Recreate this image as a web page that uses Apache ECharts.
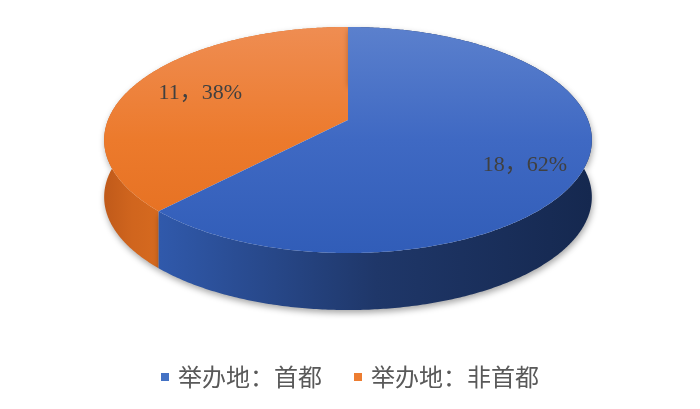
<!DOCTYPE html>
<html>
<head>
<meta charset="utf-8">
<script src="https://cdn.jsdelivr.net/npm/echarts@6/dist/echarts.min.js"></script>
<style>
  html, body { margin: 0; padding: 0; background: #fff; }
  #chart { width: 700px; height: 409px; }
</style>
</head>
<body>
<div id="chart"></div>
<script>
// Venue of the event: capital vs. non-capital
const categories = ['举办地：首都', '举办地：非首都'];
const counts = [18, 11];

// Colours: legend swatch, top face gradient, side wall gradient
const sliceColors = ['#4472c4', '#ed7d31'];
const topColors = [
  ['#5b80cd', '#3f69c3', '#315db8'],
  ['#ef8d52', '#ec7a2c', '#e46e1f']
];
const sideColors = [
  ['#3059ab', '#1f3769', '#15284f'],
  ['#c05a1a', '#d0651e', '#d66a1f']
];
// Label placement (radial fraction of the face, vertical nudge in px)
const labelPlace = [{ r: 0.754, dy: 13 }, { r: 0.693, dy: 0 }];

// Tilted disc with mild perspective
const G = { cx: 348, cy: 120, a: 240, b: 109.5, k: 0.177, depth: 57 };

const total = counts.reduce((s, v) => s + v, 0);
const starts = [];
counts.reduce((acc, v, i) => { starts[i] = acc; return acc + v; }, 0);

// u: right, v: towards the viewer
function project(u, v) {
  const w = 1 - G.k * v;
  return [G.cx + G.a * u / w, G.cy + G.b * v / w];
}
function rimPoint(theta, r) {
  return project(r * Math.sin(theta), -r * Math.cos(theta));
}

function makeRenderer(idx) {
  return function (params, api) {
    const value = api.value(0);
    const start = api.value(1);
    const t0 = start / total * Math.PI * 2;
    const t1 = (start + value) / total * Math.PI * 2;
    const n = Math.max(8, Math.ceil((t1 - t0) / 0.01));
    const topArc = [], lowArc = [];
    for (let i = 0; i <= n; i++) {
      const t = t0 + (t1 - t0) * i / n;
      const p = rimPoint(t, 1);
      topArc.push(p);
      lowArc.push([p[0], p[1] + G.depth]);
    }
    const center = project(0, 0);
    const tc = topColors[idx], sc = sideColors[idx];
    const side = {
      type: 'polygon',
      shape: { points: topArc.concat(lowArc.slice().reverse()) },
      style: {
        fill: new echarts.graphic.LinearGradient(
          idx === 0 ? 160 : 104, 0, idx === 0 ? 592 : 160, 0, [
          { offset: 0, color: sc[0] },
          { offset: 0.5, color: sc[1] },
          { offset: 1, color: sc[2] }
        ], true),
        shadowBlur: 6,
        shadowOffsetX: 1,
        shadowOffsetY: 3,
        shadowColor: 'rgba(0,0,0,0.35)'
      },
      z2: 1
    };
    const top = {
      type: 'polygon',
      shape: { points: [center].concat(topArc) },
      style: {
        fill: new echarts.graphic.LinearGradient(0, 27, 0, 253, [
          { offset: 0, color: tc[0] },
          { offset: 0.5, color: tc[1] },
          { offset: 1, color: tc[2] }
        ], true)
      },
      z2: 2
    };
    const mid = (t0 + t1) / 2;
    const lp = rimPoint(mid, labelPlace[idx].r);
    const pct = Math.round(value / total * 100);
    const label = {
      type: 'text',
      x: lp[0],
      y: lp[1] + labelPlace[idx].dy,
      style: {
        text: value + '，' + pct + '%',
        fill: '#404040',
        font: '22px "Liberation Serif", "Noto Sans CJK SC", serif',
        align: 'center',
        verticalAlign: 'middle'
      },
      z2: 3
    };
    return { type: 'group', children: [side, top, label] };
  };
}

const series = categories.map((name, i) => ({
  type: 'custom',
  name: name,
  coordinateSystem: 'none',
  renderItem: makeRenderer(i),
  itemStyle: { color: sliceColors[i] },
  data: [[counts[i], starts[i]]],
  z: 2 - i
}));

const chart = echarts.init(document.getElementById('chart'), null, { renderer: 'canvas' });
chart.setOption({
  animation: false,
  backgroundColor: '#ffffff',
  legend: {
    data: categories,
    bottom: 15,
    left: 'center',
    icon: 'rect',
    itemWidth: 8,
    itemHeight: 8,
    itemGap: 32,
    textStyle: {
      fontSize: 24,
      color: '#595959',
      padding: [0, 0, 0, 4],
      fontFamily: '"Noto Sans CJK SC", sans-serif'
    }
  },
  series: series
});
</script>
</body>
</html>
